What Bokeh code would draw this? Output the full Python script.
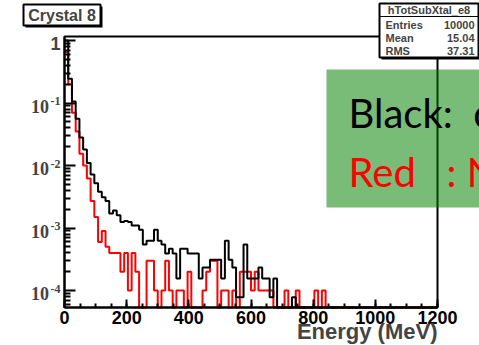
import math
from bokeh.plotting import figure
from bokeh.models import (Range1d, FixedTicker, LabelSet, Label, ColumnDataSource,
                          BoxAnnotation)
from bokeh.embed import file_html
from bokeh.resources import INLINE

# ---------------- data ----------------
bin_width = 12  # MeV
qb = 7.8e-5     # one entry of the black histogram
qr = 1.0e-4     # one entry of the red histogram
black_values = [
    1.0, 0.245, 0.106, 0.056, 0.028, 0.018, 0.011, 0.0072, 0.0052, 0.0038,
    0.0031, 0.0027, 0.0017, 0.0019, 0.0016, 0.00125, 0.0013, 0.00125, 0.0011, 0.0011,
    12 * qb, 7 * qb, 8 * qb, 8 * qb, 12 * qb, 8 * qb, 7 * qb, 5 * qb, 6 * qb, 5 * qb,
    2 * qb, 6 * qb, 6 * qb, 5 * qb, 5 * qb, 5 * qb, 2 * qb, 3 * qb, 3 * qb, 4 * qb,
    4 * qb, 4 * qb, 2 * qb, 8 * qb, 4 * qb, 3 * qb, 1 * qb, 1 * qb, 7 * qb, 2 * qb,
    2 * qb, 2 * qb, 3 * qb, 2 * qb, 2 * qb, 1 * qb, 2 * qb, 0, 0, 0,
    0, 1 * qb, 0, 0, 0, 0, 0, 0, 0, 0,
    0, 0, 0, 0, 0, 0, 0, 0, 0, 0,
    0, 0, 0, 0, 0, 0, 0, 0, 0, 0,
    0, 0, 0, 0, 0, 0, 0, 0, 0, 0,
]
red_values = [
    0.65, 0.2, 0.07, 0.035, 0.0155, 0.01, 0.0062, 0.0027, 0.0015, 6 * qr,
    9 * qr, 5 * qr, 4 * qr, 4 * qr, 4 * qr, 2 * qr, 4 * qr, 1 * qr, 4 * qr, 2 * qr,
    0, 0, 3 * qr, 3 * qr, 1 * qr, 0, 1 * qr, 3 * qr, 1 * qr, 0,
    1 * qr, 1 * qr, 0, 2 * qr, 0, 0, 0, 1 * qr, 2 * qr, 3 * qr,
    3 * qr, 0, 1 * qr, 1 * qr, 0, 1 * qr, 0, 2 * qr, 2 * qr, 2 * qr,
    1 * qr, 2 * qr, 1 * qr, 1 * qr, 1 * qr, 1 * qr, 0, 0, 0, 1 * qr,
    0, 0, 1 * qr, 0, 0, 0, 0, 1 * qr, 0, 1 * qr,
    0, 0, 0, 0, 0, 0, 0, 0, 0, 0,
    0, 0, 0, 0, 0, 0, 0, 0, 0, 0,
    0, 0, 0, 0, 0, 0, 0, 0, 0, 0,
]
x_ticks = [0, 200, 400, 600, 800, 1000, 1200]
x_minor_ticks = list(range(0, 1201, 50))
y_decades = [1e-4, 1e-3, 1e-2, 1e-1, 1.0]
y_label_values = [1e-4, 1e-3, 1e-2, 1e-1]
y_label_base = ["10", "10", "10", "10"]
y_label_exp = ["-4", "-3", "-2", "-1"]
title_text = "Crystal 8"
x_title = "Energy (MeV)"
stats_name = "hTotSubXtal_e8"
stats_keys = ["Entries", "Mean", "RMS"]
stats_vals = ["10000", "15.04", "37.31"]
NB = "\u00a0"
legend_lines = ["Black:" + NB * 2 + "c", "Red" + NB * 3 + ":" + NB + "N"]

# ---------------- geometry ----------------
W, H = 479, 345
FL, FR, FT, FB = 64, 437, 36, 307      # plot-area edges on the canvas (px)
XMIN, XMAX = 0, 1200
YMIN, YMAX = 5.35e-5, 1.16
ppx = (FR - FL) / (XMAX - XMIN)
lmin, lmax = math.log10(YMIN), math.log10(YMAX)
ppd = (FB - FT) / (lmax - lmin)
CX0, CX1 = XMIN - FL / ppx, XMAX + (W - FR) / ppx
CY0, CY1 = 10 ** (lmin - (H - FB) / ppd), 10 ** (lmax + FT / ppd)
y_minor_ticks = [m * d for d in [1e-5, 1e-4, 1e-3, 1e-2, 1e-1] for m in range(2, 10)
                 if YMIN <= m * d <= YMAX]

p = figure(width=W, height=H, title=None, output_backend="svg", toolbar_location=None,
           y_axis_type="log",
           x_range=Range1d(CX0, CX1), y_range=Range1d(CY0, CY1),
           min_border_left=0, min_border_right=0, min_border_top=0, min_border_bottom=0)
p.grid.visible = False
p.outline_line_color = None
p.background_fill_color = "white"
p.border_fill_color = "white"

font = "Liberation Sans"

xa = p.xaxis[0]
xa.fixed_location = YMIN
xa.bounds = (XMIN, XMAX)
xa.ticker = FixedTicker(ticks=x_ticks, minor_ticks=x_minor_ticks)
xa.axis_line_width = 2
xa.major_tick_in = 8
xa.major_tick_out = 0
xa.minor_tick_in = 4
xa.minor_tick_out = 0
xa.major_tick_line_width = 2
xa.minor_tick_line_width = 2
xa.major_label_text_font = font
xa.major_label_text_font_style = "bold"
xa.major_label_text_font_size = "18px"
xa.major_label_text_color = "black"
xa.major_label_standoff = 3

ya = p.yaxis[0]
ya.fixed_location = XMIN
ya.bounds = (YMIN, YMAX)
ya.ticker = FixedTicker(ticks=y_decades, minor_ticks=y_minor_ticks)
ya.axis_line_width = 2
ya.major_tick_in = 11
ya.major_tick_out = 0
ya.minor_tick_in = 6
ya.minor_tick_out = 0
ya.major_tick_line_width = 2
ya.minor_tick_line_width = 2
ya.major_label_text_alpha = 0
ya.major_label_text_font_size = "8px"

# ---------------- histograms (empty bins sit on the bottom edge) ----------------
def step_xy(values):
    xs = [XMIN + i * bin_width for i in range(len(values) + 1)]
    ys = [v if v > 0 else YMIN for v in values]
    ys = ys + [ys[-1]]
    return xs, ys

rx_, ry_ = step_xy(red_values)
p.step(rx_, ry_, mode="after", line_color="red", line_width=2)
bx_, by_ = step_xy(black_values)
p.step(bx_, by_, mode="after", line_color="black", line_width=2)

# plot frame (top / right edges)
p.add_layout(BoxAnnotation(left=XMIN, right=XMAX, bottom=YMIN, top=YMAX,
                           fill_color=None, fill_alpha=0, line_color="black",
                           line_alpha=1, line_width=2))

# ---------------- y tick labels (10^n) ----------------
ysrc = ColumnDataSource(dict(x=[XMIN] * len(y_label_values), y=y_label_values,
                             base=y_label_base, exp=y_label_exp))
p.add_layout(LabelSet(x="x", y="y", text="base", source=ysrc, x_offset=-15.5, y_offset=-3,
                      text_align="right", text_baseline="middle", text_font=font,
                      text_font_style="bold", text_font_size="18px"))
p.add_layout(LabelSet(x="x", y="y", text="exp", source=ysrc, x_offset=-4, y_offset=2,
                      text_align="right", text_baseline="middle", text_font=font,
                      text_font_style="bold", text_font_size="12px"))
p.add_layout(Label(x=XMIN, y=1.0, text="1", x_offset=-4, y_offset=-3,
                   text_align="right", text_baseline="middle", text_font=font,
                   text_font_style="bold", text_font_size="18px"))

# ---------------- x axis title ----------------
p.add_layout(Label(x=XMAX, y=YMIN, text=x_title, y_offset=-24,
                   text_align="right", text_baseline="middle", text_font=font,
                   text_font_style="bold", text_font_size="22px"))

# helpers: canvas pixel positions
def lab(cx, cy, text, **kw):
    return Label(x=CX0, y=CY1, x_offset=cx, y_offset=-cy, text=text, **kw)

def box(l, t, r, b, **kw):
    return BoxAnnotation(left=l, right=r, top=H - t, bottom=H - b,
                         left_units="screen", right_units="screen",
                         top_units="screen", bottom_units="screen", **kw)

# ---------------- title box ----------------
p.add_layout(box(25, 6, 102, 27, fill_color="black", fill_alpha=1, line_color=None))
p.add_layout(box(23, 4, 100, 25, fill_color="white", fill_alpha=1, line_color="black",
                 line_alpha=1, line_width=2))
p.add_layout(lab(61.5, 14.5, title_text, text_align="center", text_baseline="middle",
                 text_font=font, text_font_style="bold", text_font_size="16px"))

# ---------------- stats box ----------------
p.add_layout(box(381, 5, 490, 59, fill_color="black", fill_alpha=1, line_color=None))
p.add_layout(box(379, 3, 478, 57, fill_color="white", fill_alpha=1, line_color="black",
                 line_alpha=1, line_width=2))
p.add_layout(box(379, 15.5, 478, 16.5, fill_color="black", fill_alpha=1, line_color=None))
p.add_layout(lab(428.5, 9.5, stats_name, text_align="center", text_baseline="middle",
                 text_font=font, text_font_style="bold", text_font_size="11px"))
for i, (k, v) in enumerate(zip(stats_keys, stats_vals)):
    cy = 24 + 13 * i
    p.add_layout(lab(385, cy, k, text_align="left", text_baseline="middle",
                     text_font=font, text_font_style="bold", text_font_size="11px"))
    p.add_layout(lab(474, cy, v, text_align="right", text_baseline="middle",
                     text_font=font, text_font_style="bold", text_font_size="11px"))

# ---------------- green legend box ----------------
p.add_layout(box(326, 69, 490, 207, fill_color="#008000", fill_alpha=0.53, line_color=None))
p.add_layout(lab(348, 112, legend_lines[0], text_align="left", text_baseline="middle",
                 text_font="Lato", text_font_size="40px", text_color="black"))
p.add_layout(lab(348, 171, legend_lines[1], text_align="left", text_baseline="middle",
                 text_font="Lato", text_font_size="40px", text_color="red"))

open("out.html", "w").write(file_html(p, INLINE))
